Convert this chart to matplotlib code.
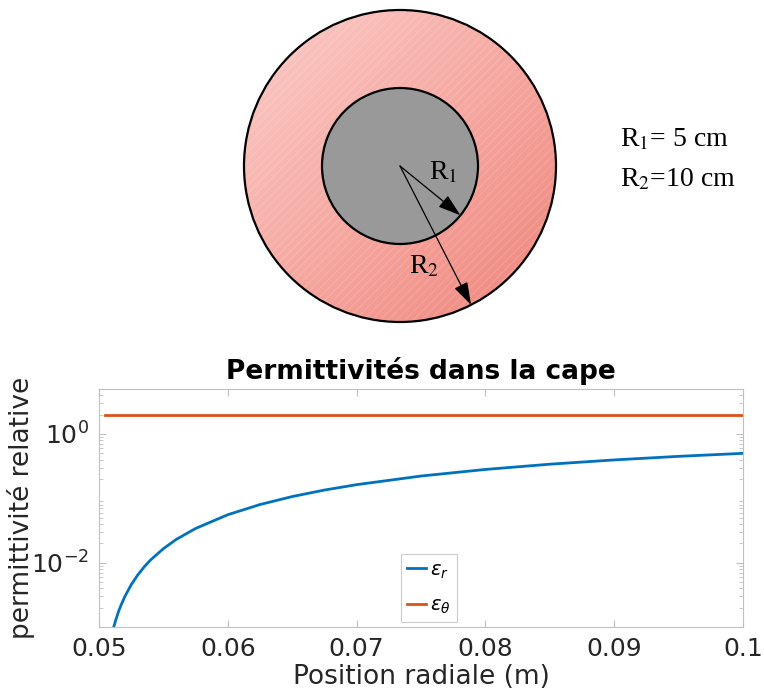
import numpy as np
import matplotlib
matplotlib.use('Agg')
import matplotlib.pyplot as plt
from matplotlib.patches import Circle
from matplotlib.ticker import NullFormatter, LogFormatterSciNotation

# Cloak radii (cm)
R1_cm = 5
R2_cm = 10

# Radial position (m) and relative permittivities
r = [0.0505, 0.0511, 0.0513, 0.0515, 0.0517, 0.052, 0.0525, 0.053, 0.0535, 0.054,
     0.055, 0.056, 0.0575, 0.06, 0.0625, 0.065, 0.0675, 0.07, 0.075, 0.08,
     0.085, 0.09, 0.095, 0.1]
eps_r = [0.0002, 0.00093, 0.00128, 0.0017, 0.00216, 0.00296, 0.00454, 0.0064, 0.00856,
         0.011, 0.0165, 0.023, 0.034, 0.0556, 0.08, 0.1065, 0.1344, 0.163,
         0.222, 0.281, 0.339, 0.395, 0.449, 0.5]
eps_theta = [2.0] * len(r)

x_ticks = [0.05, 0.06, 0.07, 0.08, 0.09, 0.1]
x_tick_labels = ['0.05', '0.06', '0.07', '0.08', '0.09', '0.1']

W, H = 764, 695
fig = plt.figure(figsize=(W / 100, H / 100), dpi=100)

# --- schematic of the cloak (pixel coordinates) ---
sk = fig.add_axes([0, 0, 1, 1])
sk.set_xlim(0, W)
sk.set_ylim(H, 0)
sk.axis('off')

cx, cy = 400, 166
px_per_cm = 15.6
ro = R2_cm * px_per_cm
ri = R1_cm * px_per_cm

# pink gradient inside the outer ring
gx, gy = np.meshgrid(np.linspace(0, 1, 200), np.linspace(0, 1, 200))
t = (gx + gy) / 2
c0 = np.array([252, 205, 201]) / 255
c1 = np.array([239, 132, 122]) / 255
img = c0[None, None, :] * (1 - t[..., None]) + c1[None, None, :] * t[..., None]
im = sk.imshow(img, extent=[cx - ro, cx + ro, cy + ro, cy - ro], zorder=1)
outer = Circle((cx, cy), ro, facecolor='none', edgecolor='black', lw=1.6, zorder=3)
sk.add_patch(outer)
im.set_clip_path(outer)
hatch = Circle((cx, cy), ro, facecolor='none', edgecolor=(1, 1, 1, 0.13),
               hatch='////', lw=0, zorder=2)
sk.add_patch(hatch)
sk.add_patch(Circle((cx, cy), ri, facecolor='#999999', edgecolor='black', lw=1.6, zorder=4))

# radius arrows
a1 = np.deg2rad(39.2)
a2 = np.deg2rad(62.9)
arrow = dict(arrowstyle='-|>,head_length=1.4,head_width=0.45',
             color='black', lw=0.9, shrinkA=0, shrinkB=0)
sk.annotate('', xy=(cx + ri * np.cos(a1), cy + ri * np.sin(a1)), xytext=(cx, cy),
            arrowprops=arrow, zorder=5)
sk.annotate('', xy=(cx + ro * np.cos(a2), cy + ro * np.sin(a2)), xytext=(cx, cy),
            arrowprops=arrow, zorder=5)

serif = dict(family='Liberation Serif', math_fontfamily='stix', color='black')
sk.text(429, 179, r'R$_1$', fontsize=20, va='baseline', zorder=6, **serif)
sk.text(409, 273, r'R$_2$', fontsize=20, va='baseline', zorder=6, **serif)
sk.text(620, 146, r'R$_1$= %d cm' % R1_cm, fontsize=20, va='baseline', **serif)
sk.text(620, 186, r'R$_2$=%d cm' % R2_cm, fontsize=20, va='baseline', **serif)

# --- permittivity plot ---
ax = fig.add_axes([99 / W, 1 - 627 / H, 644 / W, 238 / H])
ax.semilogy(r, eps_r, color='#0072BD', lw=2, label=r'$\epsilon_r$')
ax.semilogy(r, eps_theta, color='#D95319', lw=2, label=r'$\epsilon_\theta$')

ax.set_xlim(0.05, 0.1)
ax.set_ylim(1e-3, 5)
ax.set_xticks(x_ticks)
ax.set_xticklabels(x_tick_labels)
ax.set_yticks([1e-2, 1e0])
ax.yaxis.set_major_formatter(LogFormatterSciNotation())
ax.yaxis.set_minor_formatter(NullFormatter())

ax.tick_params(which='both', direction='in', top=True, right=True,
               color='#c0c0c0', labelcolor='#262626', labelsize=18)
ax.tick_params(which='major', length=5, pad=7)
ax.tick_params(which='minor', length=3)
for s in ax.spines.values():
    s.set_color('#c0c0c0')
    s.set_linewidth(0.8)

ax.set_xlabel('Position radiale (m)', fontsize=19, color='#262626', labelpad=2)
ax.set_ylabel('permittivité relative', fontsize=19, color='#262626')
ax.yaxis.set_label_coords(-0.1, 0.5)
ax.set_title('Permittivités dans la cape', fontsize=19, fontweight='bold', pad=7)

leg = ax.legend(loc='lower left', bbox_to_anchor=(0.469, 0.02), fontsize=14,
                handlelength=1.0, handletextpad=0.2, borderpad=0.3,
                labelspacing=0.8, fancybox=False, edgecolor='#c0c0c0',
                borderaxespad=0)
leg.get_frame().set_linewidth(0.8)

fig.savefig('out.png', dpi=100)
